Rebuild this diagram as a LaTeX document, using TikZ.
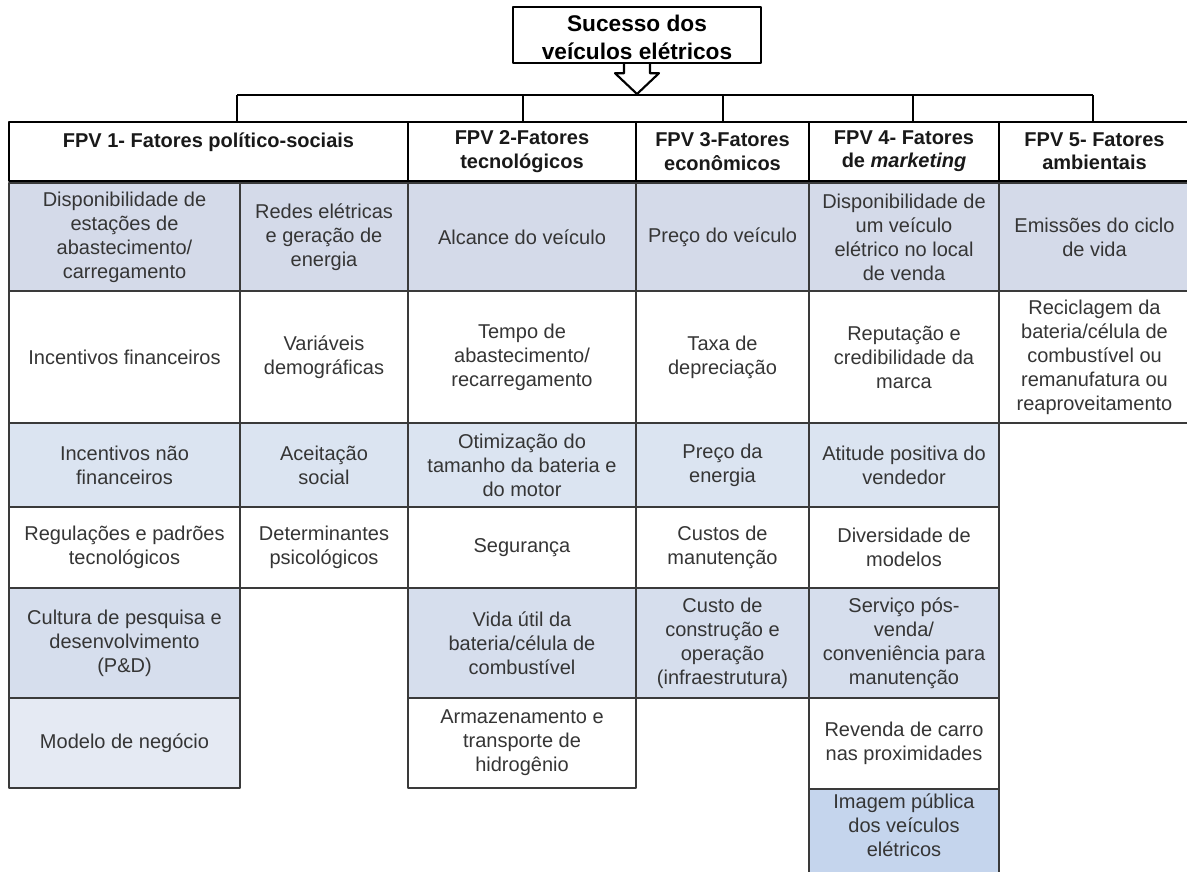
\documentclass[tikz,border=0pt]{standalone}
\usepackage{fontspec}
\setmainfont{Liberation Sans}
\usetikzlibrary{calc}

\definecolor{rowdark}{HTML}{D4DAE9}
\definecolor{rowlight}{HTML}{DBE4F1}
\definecolor{rowmid}{HTML}{D6DEED}
\definecolor{rowpale}{HTML}{E5EAF3}
\definecolor{rowblue}{HTML}{C5D5ED}
\definecolor{cellline}{HTML}{3A3A3A}
\definecolor{celltext}{HTML}{353535}

\begin{document}
\begin{tikzpicture}[x=0.75pt, y=-0.75pt, line join=round,
  topbox/.style={draw=black, line width=1.8pt, fill=white, inner sep=0pt},
  toptext/.style={align=center, inner sep=0pt, font=\bfseries\fontsize{17}{21}\selectfont},
  headbox/.style={draw=black, line width=1.8pt, fill=white, inner sep=0pt,
    align=center, text=black!90, font=\bfseries\fontsize{15}{17.5}\selectfont},
  cellbox/.style={draw=cellline, line width=1.1pt, inner sep=0pt,
    align=center, text=celltext, font=\fontsize{15}{18}\selectfont},
  bus/.style={line width=1.6pt}]

  \useasboundingbox (0,0) rectangle (1187,871);

  % ===== セル用マクロ: 名前, x1, y1, x2, y2, 色, 文字 =====
  \def\cell#1#2#3#4#5#6#7{%
    \node[cellbox, fill=#6, minimum width={(#4-#2)*0.75pt},
      minimum height={(#5-#3)*0.75pt}] (#1) at ({(#2+#4)/2},{(#3+#5)/2}) {#7};}
  \def\head#1#2#3#4{%
    \node[headbox, minimum width={(#3-#2)*0.75pt}, minimum height=44.25pt]
      (#1) at ({(#2+#3)/2},151.5) {#4};}

  % ===== 頂点 =====
  \node[topbox, minimum width=186pt, minimum height=42pt] (top) at (637,35) {};
  \node[toptext] (toplabel) at (637,37.5) {Sucesso dos\\veículos elétricos};

  % ---- 中抜き矢印 ----
  \coordinate (tip) at (637,94);
  \draw[line width=1.6pt]
    ($(top.south)+(-13,0)$) -- ++(0,9) -- ++(-9,0) -- (tip)
    -- ($(top.south)+(22,9)$) -- ++(-9,0) -- ++(0,-9);

  % ===== 見出し =====
  \head{fpv1}{9}{408}{FPV 1- Fatores político-sociais\\~}
  \head{fpv2}{408}{636}{FPV 2-Fatores\\tecnológicos}
  \head{fpv3}{636}{809}{FPV 3-Fatores\\econômicos}
  \head{fpv4}{809}{999}{FPV 4- Fatores\\de \textit{marketing}}
  \head{fpv5}{999}{1190}{FPV 5- Fatores\\ambientais}

  % ===== 接続線 =====
  \coordinate (bus1) at (237,95);
  \coordinate (bus2) at (523,95);
  \coordinate (bus3) at (723,95);
  \coordinate (bus4) at (913,95);
  \coordinate (bus5) at (1093,95);
  \draw[bus] (bus1) -- (bus5);
  \foreach \i in {1,...,5}
    \draw[bus] (bus\i) -- (bus\i |- fpv\i.north);

  % ===== FPV 1 =====
  \cell{pol1}{9}{183}{240}{291}{rowdark}{Disponibilidade de\\estações de\\abastecimento/\\carregamento}
  \cell{pol2}{9}{291}{240}{423}{white}{Incentivos financeiros}
  \cell{pol3}{9}{423}{240}{507}{rowlight}{Incentivos não\\financeiros}
  \cell{pol4}{9}{507}{240}{588}{white}{Regulações e padrões\\tecnológicos}
  \cell{pol5}{9}{588}{240}{698}{rowmid}{Cultura de pesquisa e\\desenvolvimento\\(P\&D)}
  \cell{pol6}{9}{698}{240}{788}{rowpale}{Modelo de negócio}

  \cell{soc1}{240}{183}{408}{291}{rowdark}{Redes elétricas\\e geração de\\energia}
  \cell{soc2}{240}{291}{408}{423}{white}{Variáveis\\demográficas}
  \cell{soc3}{240}{423}{408}{507}{rowlight}{Aceitação\\social}
  \cell{soc4}{240}{507}{408}{588}{white}{Determinantes\\psicológicos}

  % ===== FPV 2 =====
  \cell{tec1}{408}{183}{636}{291}{rowdark}{Alcance do veículo}
  \cell{tec2}{408}{291}{636}{423}{white}{Tempo de\\abastecimento/\\recarregamento}
  \cell{tec3}{408}{423}{636}{507}{rowlight}{Otimização do\\tamanho da bateria e\\do motor}
  \cell{tec4}{408}{507}{636}{588}{white}{Segurança}
  \cell{tec5}{408}{588}{636}{698}{rowmid}{Vida útil da\\bateria/célula de\\combustível}
  \cell{tec6}{408}{698}{636}{788}{white}{Armazenamento e\\transporte de\\hidrogênio}

  % ===== FPV 3 =====
  \cell{eco1}{636}{183}{809}{291}{rowdark}{Preço do veículo}
  \cell{eco2}{636}{291}{809}{423}{white}{Taxa de\\depreciação}
  \cell{eco3}{636}{423}{809}{507}{rowlight}{Preço da\\energia}
  \cell{eco4}{636}{507}{809}{588}{white}{Custos de\\manutenção}
  \cell{eco5}{636}{588}{809}{698}{rowmid}{Custo de\\construção e\\operação\\(infraestrutura)}

  % ===== FPV 4 =====
  \cell{mkt1}{809}{183}{999}{291}{rowdark}{Disponibilidade de\\um veículo\\elétrico no local\\de venda}
  \cell{mkt2}{809}{291}{999}{423}{white}{Reputação e\\credibilidade da\\marca}
  \cell{mkt3}{809}{423}{999}{507}{rowlight}{Atitude positiva do\\vendedor}
  \cell{mkt4}{809}{507}{999}{588}{white}{Diversidade de\\modelos}
  \cell{mkt5}{809}{588}{999}{698}{rowmid}{Serviço pós-\\venda/\\conveniência para\\manutenção}
  \cell{mkt6}{809}{698}{999}{789}{white}{Revenda de carro\\nas proximidades}
  \cell{mkt7}{809}{789}{999}{873}{rowblue}{Imagem pública\\dos veículos\\elétricos\\[-9pt]~}

  % ===== FPV 5 =====
  \cell{amb1}{999}{183}{1190}{291}{rowdark}{Emissões do ciclo\\de vida}
  \cell{amb2}{999}{291}{1190}{423}{white}{Reciclagem da\\bateria/célula de\\combustível ou\\remanufatura ou\\reaproveitamento}

\end{tikzpicture}
\end{document}
